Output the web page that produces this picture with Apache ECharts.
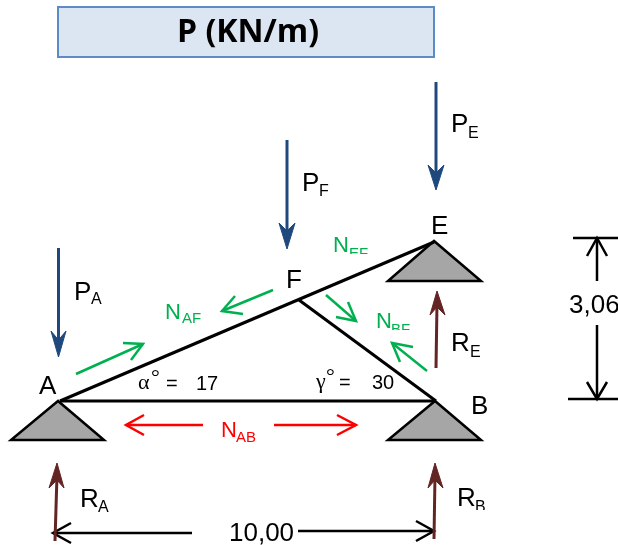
<!DOCTYPE html>
<html><head><meta charset="utf-8">
<style>html,body{margin:0;padding:0;background:#fff}#c{width:618px;height:545px}</style>
<script src="https://cdn.jsdelivr.net/npm/echarts@6/dist/echarts.min.js"></script>
</head><body><div id="c"></div>
<script>
// Diagram geometry in the chart's axis units
const titleBox = [[58,7],[434,7],[434,57],[58,57]];
const supports = [
  [[58,401],[11,440],[104,440]],
  [[435,401],[388,440],[481,440]],
  [[434,241],[388,281],[481,281]]
];
const beams = [
  [[60,401],[434,242]],
  [[60,401],[436,401]],
  [[299,300],[436,401]]
];
const loadShafts = [
  [[436,82],[436,178]],
  [[287,140],[287,235]],
  [[58.5,248],[58.5,344]]
];
const loadHeads = [
  [[436,190],[428,165],[436,173],[444,165]],
  [[287,249],[279,223],[287,231],[295,223]],
  [[58.5,357],[51,331],[58.5,340],[66,331]]
];
const reactionShafts = [
  [[55,541],[57,475]],
  [[436,368],[437,303]],
  [[434,539],[435,475]]
];
const reactionHeads = [
  [[57,463],[49,488],[57,480],[64,488]],
  [[437,291],[430,315],[437,307],[445,315]],
  [[435,463],[428,488],[435,480],[443,488]]
];
const greenArrows = [
  [[76,374],[143,344]],[[123,343],[143,344],[131,360]],
  [[273,290],[222,311]],[[235,296],[222,311],[243,314]],
  [[326,295],[356,321]],[[348,302],[356,321],[336,317]],
  [[427,371],[392,343]],[[413,347],[392,343],[400,362]]
];
const redArrows = [
  [[203,425],[126,425]],[[144,415],[126,425],[144,435]],
  [[274,425],[356,425]],[[337,415],[356,425],[337,435]]
];
const dimensionLines = [
  [[192,533],[53,533]],[[71,523],[53,533],[71,543]],
  [[298,531],[434,531]],[[416,521],[434,531],[416,541]],
  [[573,238],[618,238]],[[597,238],[597,281]],[[587,256],[597,238],[607,256]],
  [[568,399],[618,399]],[[597,325],[597,399]],[[587,382],[597,399],[607,382]]
];
// [text, x, baseline y, style key, optional clip y]
const blackLabels = [
  ['P',451,131,'main'],['E',468,138,'sub'],
  ['P',302,190,'main'],['F',319,196,'sub'],
  ['P',74,299,'main'],['A',91,304,'sub'],
  ['E',431,233,'main'],['F',286,287,'main'],['A',39,393,'main'],['B',471,413,'main'],
  ['R',451,350,'main'],['E',470,357,'sub'],
  ['R',80,506,'main'],['A',98,512,'sub'],
  ['R',457,505,'main'],['B',475,512,'sub',510],
  ['10,00',229,540,'main'],['3,06',569,312,'main'],
  ['α',138,389,'greek'],['°',151,384,'greek'],['=',166,389,'angle'],['17',196,389,'angle'],
  ['γ',316,388,'greek'],['°',326,383,'greek'],['=',339,388,'angle'],['30',372,388,'angle']
];
const greenLabels = [
  ['N',333,251,'force'],['EF',349,258,'forceSub',254],
  ['N',165,318,'force'],['AF',182,323,'forceSub'],
  ['N',376,327,'force'],['BF',391,334,'forceSub',330]
];
const redLabels = [['N',221,436,'force'],['AB',236,442,'forceSub']];
const titleLabel = ['P (KN/m)',248,33];

const fontStyles = {
  main:{size:26,family:'"Liberation Sans"'},
  sub:{size:16,family:'"Liberation Sans"'},
  force:{size:22,family:'"Liberation Sans"'},
  forceSub:{size:15,family:'"Liberation Sans"'},
  angle:{size:20,family:'"Liberation Sans"'},
  greek:{size:22,family:'"Liberation Serif"'}
};

function polyItems(list, fill, stroke, lw){
  return {
    type:'custom', coordinateSystem:'cartesian2d', silent:true, clip:false,
    data:list.map((_,i)=>[i,i]), encode:{x:0,y:1},
    renderItem(p,api){
      const pts=list[api.value(0)].map(q=>api.coord(q));
      return {type:'polygon',shape:{points:pts},style:{fill:fill,stroke:stroke,lineWidth:lw,lineJoin:'miter'}};
    }
  };
}
function lineItems(list, stroke, lw){
  return {
    type:'custom', coordinateSystem:'cartesian2d', silent:true, clip:false,
    data:list.map((_,i)=>[i,i]), encode:{x:0,y:1},
    renderItem(p,api){
      const pts=list[api.value(0)].map(q=>api.coord(q));
      return {type:'polyline',shape:{points:pts},style:{fill:null,stroke:stroke,lineWidth:lw,lineJoin:'miter',lineCap:'butt'}};
    }
  };
}
function textItems(list, color){
  return {
    type:'custom', coordinateSystem:'cartesian2d', silent:true, clip:false,
    data:list.map((_,i)=>[i,i]), encode:{x:0,y:1},
    renderItem(p,api){
      const t=list[api.value(0)], f=fontStyles[t[3]], q=api.coord([t[1],t[2]]);
      const el={type:'text',style:{text:t[0],x:q[0],y:q[1]-0.25*f.size,fill:color,font:f.size+'px '+f.family,textAlign:'left',textVerticalAlign:'middle'}};
      if(t[4]!==undefined){const c=api.coord([t[1],t[4]]);el.clipPath={type:'rect',shape:{x:q[0]-5,y:c[1]-40,width:60,height:40}};}
      return el;
    }
  };
}
const chart=echarts.init(document.getElementById('c'));
chart.setOption({
  animation:false, backgroundColor:'#ffffff',
  grid:{left:0,right:0,top:0,bottom:0,containLabel:false},
  xAxis:{type:'value',min:0,max:618,show:false},
  yAxis:{type:'value',min:0,max:545,inverse:true,show:false},
  tooltip:{show:false},
  series:[
    polyItems([titleBox],'#dce6f2','#5b8cc4',2),
    {type:'custom',coordinateSystem:'cartesian2d',silent:true,clip:false,data:[[titleLabel[1],titleLabel[2]]],encode:{x:0,y:1},
     renderItem(p,api){const q=api.coord([api.value(0),api.value(1)]);
       return {type:'text',style:{text:titleLabel[0],x:q[0],y:q[1],fill:'#000',font:'bold 32px "Open Sans"',textAlign:'center',textVerticalAlign:'middle'}};}},
    polyItems(supports,'#a6a6a6','#000000',2.5),
    lineItems(beams,'#000000',3),
    lineItems(loadShafts,'#1f497d',3),
    polyItems(loadHeads,'#1f497d','#1f497d',1),
    lineItems(dimensionLines,'#000000',2.5),
    lineItems(reactionShafts,'#632523',3),
    polyItems(reactionHeads,'#632523','#632523',1),
    lineItems(greenArrows,'#00b050',2.5),
    lineItems(redArrows,'#ff0000',2.5),
    textItems(blackLabels,'#000000'),
    textItems(greenLabels,'#00b050'),
    textItems(redLabels,'#ff0000')
  ]
});
</script></body></html>
